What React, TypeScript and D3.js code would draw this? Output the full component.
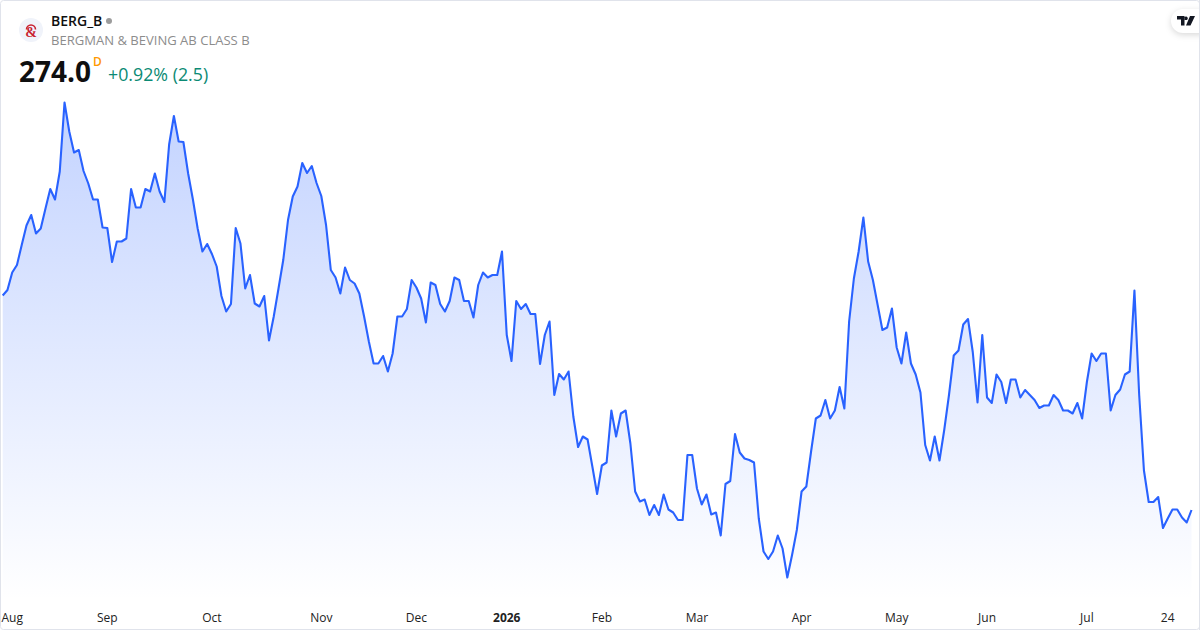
import React, { useEffect, useRef } from 'react';
import { select, scaleLinear, line, area, curveLinear } from 'd3';

// daily close
const closes = [
  316.9, 318, 321.5, 323, 327, 330.9, 333, 329.3, 330.3, 334.3,
  338.2, 336.1, 341.7, 355.5, 349.7, 345.5, 346, 341.8, 339.3, 336.1,
  336.1, 330.5, 330.4, 323.6, 327.7, 327.7, 328.3, 338.2, 334.5, 334.5,
  338.2, 337.7, 341.3, 337.7, 335.6, 347.1, 352.8, 347.7, 347.6, 341.3,
  336.1, 330.3, 325.7, 327.2, 325.2, 322.7, 316.8, 313.7, 315.2, 330.4,
  327.3, 318.3, 321, 315.3, 314.7, 316.8, 307.9, 312.7, 318.3, 324,
  332, 336.7, 338.7, 343.4, 341.4, 342.8, 339.4, 336.8, 331, 322,
  320.5, 317.3, 322.5, 320, 319.3, 317.3, 312.7, 307.7, 303.3, 303.3,
  304.8, 301.7, 305.3, 312.7, 312.7, 314.2, 320, 318.5, 316.3, 311.5,
  319.5, 319, 315.2, 313.7, 315.8, 320.5, 320, 315.8, 315.8, 312.5,
  319, 321.5, 320.5, 321, 321, 325.7, 309, 303.8, 315.8, 314.2,
  315.2, 313.2, 313.2, 303.2, 309, 311.7, 297, 301.2, 300.1, 301.7,
  292.7, 286.6, 288.7, 288.1, 282.7, 277.2, 282.9, 283.5, 293.9, 288.7,
  293.3, 293.9, 287.3, 277.7, 275.7, 276.1, 273, 275, 273, 277.1,
  274.1, 273.5, 272, 272, 285, 285, 278.3, 275.1, 277.1, 273.1,
  273.5, 268.9, 279.2, 279.8, 289.2, 285.5, 284.3, 284, 283.5, 272.3,
  265.7, 264.2, 265.7, 268.9, 266.3, 260.5, 265, 270, 277.7, 278.7,
  285.7, 292.3, 292.9, 296, 292.3, 293.9, 298.6, 294.3, 311.7, 320.3,
  325.7, 332.5, 323.7, 320, 315, 310, 310.5, 314.3, 306.5, 303.3,
  309.5, 303.3, 301.1, 297.5, 287, 283.9, 288.7, 283.9, 290, 297,
  304.9, 305.9, 311.1, 312.2, 305.6, 295.5, 309, 296.5, 295.4, 301.1,
  299.6, 295.4, 300.1, 300.1, 296.5, 298, 297, 296, 294.4, 294.9,
  294.9, 297, 296, 293.9, 293.9, 293.3, 295.4, 292.3, 299.6, 305.3,
  303.8, 305.3, 305.3, 293.9, 297, 298.1, 301.1, 301.7, 317.9, 297,
  281.9, 275.6, 275.6, 276.6, 270.4, 272.3, 274.1, 274.1, 272.5, 271.5,
  274,
];

const tickLabels = ['Aug', 'Sep', 'Oct', 'Nov', 'Dec', '2026', 'Feb', 'Mar', 'Apr', 'May', 'Jun', 'Jul', '24'];
const tickIndex = [2, 22, 44, 67, 87, 106, 126, 146, 168, 188, 207, 228, 245];

const W = 1200;
const H = 630;
const FONT = '"Open Sans", sans-serif';

const App: React.FC = () => {
  const svgRef = useRef<SVGSVGElement | null>(null);

  useEffect(() => {
    const svg = select(svgRef.current);
    svg.selectAll('*').remove();

    const x = scaleLinear().domain([0, closes.length - 1]).range([2.7, 1191.5]);
    const y = scaleLinear().domain([254, 374]).range([610, 10]);
    const plotBottom = 600;

    const grad = svg.append('defs').append('linearGradient')
      .attr('id', 'fill')
      .attr('gradientUnits', 'userSpaceOnUse')
      .attr('x1', 0).attr('x2', 0)
      .attr('y1', y(355.5)).attr('y2', plotBottom);
    grad.append('stop').attr('offset', 0).attr('stop-color', '#2962ff').attr('stop-opacity', 0.28);
    grad.append('stop').attr('offset', 1).attr('stop-color', '#2962ff').attr('stop-opacity', 0);

    svg.append('rect')
      .attr('x', 0.5).attr('y', 0.5)
      .attr('width', W - 1).attr('height', H - 1)
      .attr('rx', 3)
      .attr('fill', '#fff')
      .attr('stroke', '#e0e3eb');

    const areaGen = area<number>()
      .x((_, i) => x(i))
      .y0(plotBottom)
      .y1(d => y(d))
      .curve(curveLinear);
    const lineGen = line<number>()
      .x((_, i) => x(i))
      .y(d => y(d))
      .curve(curveLinear);

    svg.append('path').attr('d', areaGen(closes)!).attr('fill', 'url(#fill)');
    svg.append('path').attr('d', lineGen(closes)!)
      .attr('fill', 'none')
      .attr('stroke', '#2962ff')
      .attr('stroke-width', 2.1)
      .attr('stroke-linejoin', 'round');

    // time axis
    svg.append('g').selectAll('text')
      .data(tickLabels)
      .enter()
      .append('text')
      .attr('x', (_, i) => x(tickIndex[i]))
      .attr('y', 622)
      .attr('text-anchor', 'middle')
      .attr('font-family', FONT)
      .attr('font-size', 12)
      .attr('font-weight', d => (d === '2026' ? 700 : 400))
      .attr('fill', '#222')
      .text(d => d);

    // header
    const addText = (t: string, tx: number, ty: number, size: number, color: string, weight = 400) =>
      svg.append('text')
        .attr('x', tx).attr('y', ty)
        .attr('font-family', FONT)
        .attr('font-size', size)
        .attr('font-weight', weight)
        .attr('fill', color)
        .text(t);

    // logo
    svg.append('circle').attr('cx', 31).attr('cy', 30).attr('r', 12).attr('fill', '#f0f3fa');
    svg.append('path')
      .attr('d', 'M26.5 29.5a4.5 4.5 0 1 1 9 0')
      .attr('fill', 'none')
      .attr('stroke', '#c8202f')
      .attr('stroke-width', 1.6);
    svg.append('text')
      .attr('x', 31).attr('y', 36.5)
      .attr('text-anchor', 'middle')
      .attr('font-family', '"Liberation Serif", serif')
      .attr('font-size', 14)
      .attr('font-weight', 700)
      .attr('fill', '#c8202f')
      .text('&');

    addText('BERG_B', 51, 26, 14, '#0f0f0f', 600);
    svg.append('circle').attr('cx', 109).attr('cy', 21).attr('r', 3).attr('fill', '#9c9c9c');
    addText('BERGMAN & BEVING AB CLASS B', 51, 45, 13.05, '#8c8c8c');
    addText('274.0', 19, 82, 28, '#0f0f0f', 700);
    addText('D', 93, 66, 12, '#ff9800', 600);
    addText('+0.92% (2.5)', 108, 81, 17.8, '#0b8a74');

    // TV badge
    const badge = svg.append('g');
    badge.append('rect')
      .attr('x', 1171).attr('y', 9).attr('width', 40).attr('height', 24).attr('rx', 12)
      .attr('fill', '#fff')
      .style('filter', 'drop-shadow(0 2px 3px rgba(0,0,0,0.15))');
    badge.append('path')
      .attr('d', 'M1177 16h7.5v9.5h-3.5v-6h-4z M1186 16.5a1.8 1.8 0 1 0 0.01 0z M1190 16h5l-4.5 9.5h-4.5z')
      .attr('fill', '#131722');
    svg.append('rect')
      .attr('x', 1199).attr('y', 0).attr('width', 1).attr('height', H).attr('fill', '#e0e3eb');
  }, []);

  return (
    <svg
      ref={svgRef}
      width={W}
      height={H}
      style={{ position: 'fixed', left: 0, top: 0, display: 'block', background: '#fff' }}
    />
  );
};

export default App;
